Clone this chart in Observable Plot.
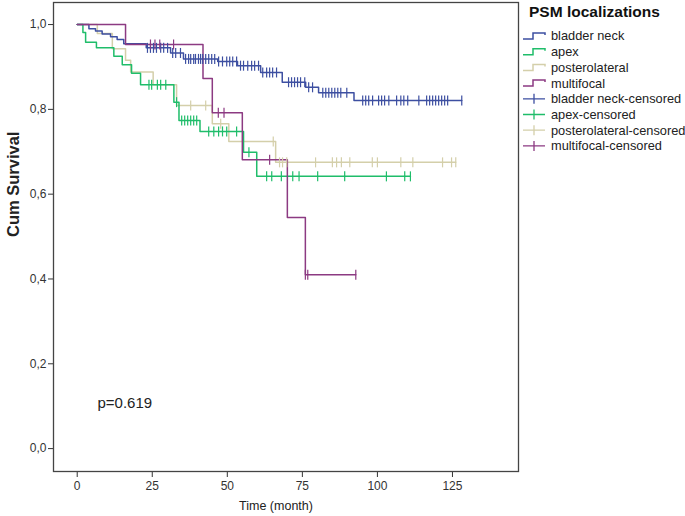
<!DOCTYPE html>
<html><head><meta charset="utf-8">
<script src="https://cdn.jsdelivr.net/npm/d3@7"></script>
<script src="https://cdn.jsdelivr.net/npm/@observablehq/plot@0.6"></script>
<style>
body{margin:0;background:#fff;font-family:"Liberation Sans",Arial,sans-serif;}
#wrap{position:relative;width:685px;height:516px;overflow:hidden;}
#legend{position:absolute;left:518px;top:0;}
</style></head><body><div id="wrap"></div>
<script>
const xTicks = [0, 25, 50, 75, 100, 125];
const yTicks = [0, 0.2, 0.4, 0.6, 0.8, 1.0];
const groups = ["bladder neck", "apex", "posterolateral", "multifocal"];
const groupColors = ["#3d4fa1", "#1fbd6a", "#d4cfaa", "#8c3a82"];
const legendLabels = ["bladder neck", "apex", "posterolateral", "multifocal",
  "bladder neck-censored", "apex-censored", "posterolateral-censored", "multifocal-censored"];

// bladder neck
const bladderNeckTimes = [0, 3.9, 6.1, 8.3, 11.1, 13.3, 15.5, 23.0, 31.1, 35.4, 46.8, 53.4, 61.1, 68.3, 76.1, 80.4, 92.2];
const bladderNeckSurv  = [1, 0.990, 0.985, 0.978, 0.971, 0.965, 0.955, 0.945, 0.933, 0.919, 0.913, 0.903, 0.887, 0.864, 0.852, 0.839, 0.821];
const bladderNeckCensored = [23.4, 24.4, 25.4, 26.4, 27.8, 28.8, 30.1, 31.8, 32.8, 34.4, 36.1, 37.1, 37.8, 38.8, 39.4, 40.4, 41.1, 41.8, 42.8, 43.8, 44.8, 45.8, 47.1, 48.4, 49.8, 50.8, 51.8, 53.1, 54.4, 55.4, 56.8, 58.1, 59.1, 60.4, 61.8, 63.1, 64.1, 65.1, 66.4, 70.4, 71.4, 72.4, 73.4, 74.4, 75.8, 77.1, 78.4, 81.8, 82.8, 83.8, 84.8, 85.8, 86.8, 87.8, 89.8, 95.1, 96.1, 97.1, 98.4, 100.4, 101.4, 102.4, 103.8, 106.4, 107.8, 108.8, 110.1, 113.8, 116.4, 117.4, 118.4, 119.4, 120.4, 121.4, 122.4, 123.4, 128.1];

// apex
const apexTimes = [0, 1.9, 2.8, 6.4, 12.2, 15.0, 18.1, 21.1, 32.2, 33.9, 40.9, 55.4, 59.8];
const apexSurv  = [1, 0.981, 0.958, 0.945, 0.925, 0.905, 0.885, 0.858, 0.817, 0.774, 0.748, 0.699, 0.642];
const apexCensored = [23.9, 24.8, 26.7, 27.8, 29.5, 33.1, 34.8, 35.8, 36.8, 37.8, 38.8, 39.8, 43.8, 45.5, 47.1, 48.4, 49.8, 53.1, 57.2, 63.1, 64.8, 68.0, 71.8, 73.9, 80.1, 89.1, 103.0, 109.1, 111.0];

// posterolateral
const posterolateralTimes = [0, 6.7, 11.7, 16.1, 17.8, 25.3, 33.1, 45.0, 50.5, 66.1];
const posterolateralSurv  = [1, 0.979, 0.943, 0.916, 0.888, 0.858, 0.809, 0.766, 0.724, 0.675];
const posterolateralCensored = [37.8, 42.8, 47.8, 65.3, 67.4, 68.4, 69.8, 79.4, 85.0, 86.4, 88.0, 90.8, 98.3, 100.0, 107.8, 111.8, 121.7, 124.7, 126.1];

// multifocal
const multifocalTimes = [0, 16.1, 41.9, 45.0, 55.0, 70.0, 76.0];
const multifocalSurv  = [1, 0.953, 0.873, 0.792, 0.681, 0.545, 0.410];
const multifocalCensored = [24.4, 25.9, 27.5, 32.1, 47.0, 48.9, 64.1, 76.0, 76.8, 92.8];

const series = [
  {name: groups[0], times: bladderNeckTimes, surv: bladderNeckSurv, cens: bladderNeckCensored},
  {name: groups[1], times: apexTimes, surv: apexSurv, cens: apexCensored},
  {name: groups[2], times: posterolateralTimes, surv: posterolateralSurv, cens: posterolateralCensored},
  {name: groups[3], times: multifocalTimes, surv: multifocalSurv, cens: multifocalCensored}
];
function survAt(times, surv, t) {
  let s = surv[0];
  for (let i = 0; i < times.length; i++) if (times[i] <= t) s = surv[i];
  return s;
}
const drawOrder = [2, 1, 0, 3];
const lineRows = [], censRows = [];
for (const k of drawOrder) {
  const g = series[k];
  const end = Math.max(...g.cens, ...g.times);
  g.times.forEach((t, i) => lineRows.push({group: g.name, t, s: g.surv[i]}));
  lineRows.push({group: g.name, t: end, s: g.surv[g.surv.length - 1]});
  g.cens.forEach(t => censRows.push({group: g.name, t, s: survAt(g.times, g.surv, t)}));
}
const vbar = {draw(ctx, size) { const r = Math.sqrt(size / Math.PI); ctx.moveTo(0, -r); ctx.lineTo(0, r); }};
const fmt = d => d.toFixed(1).replace(".", ",");

const chart = Plot.plot({
  width: 685, height: 516,
  marginLeft: 53, marginRight: 167, marginTop: 2, marginBottom: 45,
  style: {fontFamily: '"Liberation Sans", Arial, sans-serif', fontSize: "12px", color: "#333", background: "white", overflow: "visible"},
  x: {domain: [-7.9, 147]},
  y: {domain: [-0.054, 1.052]},
  color: {domain: groups, range: groupColors},
  marks: [
    Plot.axisX(xTicks, {tickSize: 6, tickPadding: 4, label: null, stroke: "#333", fill: "#333", fontSize: 12}),
    Plot.axisY(yTicks, {tickSize: 5, tickPadding: 2, label: null, tickFormat: fmt, stroke: "#333", fill: "#333", fontSize: 12}),
    Plot.line(lineRows, {x: "t", y: "s", z: "group", stroke: "group", curve: "step-after", strokeWidth: 1.5}),
    Plot.dot(censRows, {x: "t", y: "s", stroke: "group", symbol: vbar, r: 5, strokeWidth: 1.2}),
    Plot.frame({stroke: "#444", strokeWidth: 1.3}),
    Plot.text(["p=0.619"], {frameAnchor: "bottom-left", dx: 44, dy: -64, textAnchor: "start", fontSize: 15, fill: "#222"}),
    Plot.text(["Time (month)"], {frameAnchor: "bottom", dx: -10, dy: 38, fontSize: 12.5, fill: "#222"}),
    Plot.text(["Cum Survival"], {frameAnchor: "left", dx: -40, rotate: -90, fontSize: 16.5, fontWeight: "bold", fill: "#222"})
  ]
});
const wrap = document.getElementById("wrap");
wrap.appendChild(chart);

// legend
const lg = d3.select(wrap).append("svg").attr("id", "legend").attr("width", 167).attr("height", 170)
  .style("font-family", '"Liberation Sans", Arial, sans-serif');
lg.append("text").attr("x", 11).attr("y", 17).attr("font-size", 15.5).attr("font-weight", "bold").attr("fill", "#111").text("PSM localizations");
legendLabels.forEach((lab, i) => {
  const cy = 36 + i * 15.7;
  const col = groupColors[i % 4];
  if (i < 4) {
    lg.append("path").attr("d", `M5,${cy + 3}H15V${cy - 3}H27V${cy - 1}`).attr("fill", "none").attr("stroke", col).attr("stroke-width", 1.5);
  } else {
    lg.append("path").attr("d", `M5,${cy}H27M16,${cy - 5}V${cy + 5}`).attr("fill", "none").attr("stroke", col).attr("stroke-width", 1.3);
  }
  lg.append("text").attr("x", 33).attr("y", cy).attr("dy", "0.35em").attr("font-size", 12.8).attr("fill", "#222").text(lab);
});
</script></body></html>
